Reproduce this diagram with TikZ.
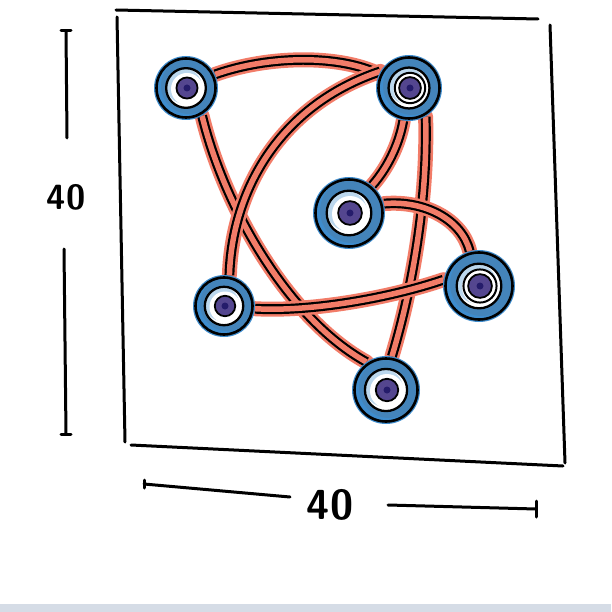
\documentclass[tikz,border=0pt]{standalone}
\definecolor{salmon}{HTML}{F27C68}
\definecolor{eyeblue}{HTML}{3E8CCD}
\definecolor{steel}{HTML}{4B7EA8}
\definecolor{core}{HTML}{54468F}
\definecolor{coredot}{HTML}{251C6B}
\definecolor{strip}{HTML}{D5DCE6}
\tikzset{
  hub/.style={circle, minimum size=#1, inner sep=0pt},
  band/.style={line width=15pt, draw=salmon, line cap=round},
  wire/.style={line width=2.2pt, draw=black, double=salmon, double distance=5.5pt},
  pen/.style={line width=3pt, draw=black, line cap=round},
  dimlabel/.style={inner sep=0pt}
}
\newcommand\bandedge[1]{\draw[band] #1; \draw[wire] #1;}
\newcommand\eye[3]{%
  \fill[eyeblue] (#1) circle (#2pt);
  \fill[steel, opacity=0.5] ([shift={(3pt,2pt)}]#1) circle (#2pt - 4pt);
  \draw[line width=2.6pt] (#1) circle (#2pt - 2.5pt);
  \fill[white] (#1) circle (#2pt*0.62);
  \fill[eyeblue!35] ([shift={(-2pt,2pt)}]#1) circle (#2pt*0.55);
  \fill[white] ([shift={(1pt,-1pt)}]#1) circle (#2pt*0.5);
  \draw[line width=2.3pt] (#1) circle (#2pt*0.62);
  \ifnum#3=1 \draw[line width=2pt] ([shift={(1pt,0pt)}]#1) circle (#2pt*0.46);\fi
  \fill[core] ([shift={(1pt,0pt)}]#1) circle (#2pt*0.33);
  \draw[line width=1.8pt] ([shift={(1pt,0pt)}]#1) circle (#2pt*0.33);
  \fill[coredot] ([shift={(1pt,0pt)}]#1) circle (3.5pt);
}
\begin{document}
\begin{tikzpicture}[x=1pt,y=-1pt]
\useasboundingbox (0,0) rectangle (611,612);
\fill[white] (0,0) rectangle (611,612);
\fill[strip] (0,604) rectangle (611,612);

% frame
\draw[pen] (116,10) -- (538,19);
\draw[pen] (117,17) -- (125,442);
\draw[pen] (131,445) -- (563,466);
\draw[pen] (550,25) -- (565,463);

% dimension marks
\node[dimlabel, font=\sffamily\bfseries\fontsize{35}{35}\selectfont] (vlab) at (66,197) {40};
\node[dimlabel, font=\sffamily\bfseries\fontsize{42}{42}\selectfont] (hlab) at (330,505) {40};
\coordinate (vt) at (66,31);
\coordinate (vb) at (66,434);
\coordinate (hl) at (144,484);
\coordinate (hr) at (536,509);
\draw[pen] (vt) -- (67,138);
\draw[pen] (64,249) -- (vb);
\draw[pen] ([xshift=-5pt]vt) -- ([xshift=5pt]vt);
\draw[pen] ([xshift=-5pt]vb) -- ([xshift=5pt]vb);
\draw[pen] (hl) -- (290,497);
\draw[pen] ([yshift=-4pt]hl) -- ([yshift=4pt]hl);
\draw[pen] (388,505) -- (hr);
\draw[pen] ([yshift=-8pt]hr) -- ([yshift=8pt]hr);

% hubs (positions)
\node[hub=64pt] (A) at (186,88) {};
\node[hub=66pt] (B) at (409,88) {};
\node[hub=72pt] (C) at (349,213) {};
\node[hub=72pt] (D) at (479,286) {};
\node[hub=62pt] (E) at (224,306) {};
\node[hub=68pt] (F) at (386,390) {};

% connectors
\bandedge{(A.25) .. controls (270,55) and (340,55) .. (B.155)}
\bandedge{(A.-60) .. controls (225,210) and (290,320) .. (F.125)}
\bandedge{(B.150) .. controls (280,105) and (232,190) .. (E.80)}
\bandedge{(B.-100) .. controls (400,140) and (390,165) .. (C.50)}
\bandedge{(B.-60) .. controls (428,200) and (412,290) .. (F.80)}
\bandedge{(C.15) .. controls (425,200) and (462,220) .. (D.105)}
\bandedge{(E.-5) .. controls (310,312) and (390,298) .. (D.170)}

% hub drawings
\eye{A}{32}{0}
\eye{B}{33}{1}
\eye{C}{36}{0}
\eye{D}{36}{1}
\eye{E}{31}{0}
\eye{F}{34}{0}
\end{tikzpicture}
\end{document}
